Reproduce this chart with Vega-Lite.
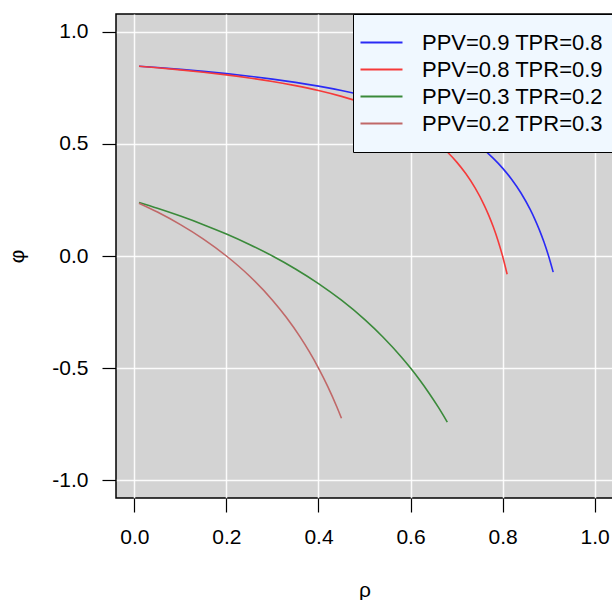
{
  "$schema": "https://vega.github.io/schema/vega-lite/v6.json",
  "width": 497,
  "height": 484,
  "autosize": {"type": "none"},
  "padding": {"left": 116, "top": 14, "right": 0, "bottom": 102},
  "background": "white",
  "config": {
    "font": "Liberation Sans",
    "view": {"fill": "#D3D3D3", "stroke": "black", "strokeWidth": 1.5},
    "axis": {
      "domain": false,
      "gridColor": "white",
      "gridWidth": 1.5,
      "gridOpacity": 0.9,
      "tickColor": "black",
      "tickSize": 14,
      "tickWidth": 1.2,
      "labelFontSize": 21,
      "labelColor": "black",
      "labelPadding": 14,
      "titleFontSize": 21,
      "titleFontWeight": "normal",
      "titleColor": "black",
      "labelFlush": false,
      "labelExpr": "replace(datum.label, '\u2212', '-')"
    },
    "legend": {
      "orient": "none",
      "legendX": 237,
      "legendY": 0,
      "fillColor": "#F0F8FF",
      "strokeColor": "black",
      "padding": 17,
      "symbolType": "M-2,0H2",
      "symbolSize": 441,
      "symbolStrokeWidth": 2,
      "symbolFillColor": "transparent",
      "labelFontSize": 22,
      "labelColor": "black",
      "labelOffset": 29,
      "rowPadding": 4,
      "labelLimit": 400
    }
  },
  "data": {
    "values": [
      {"series": "PPV=0.9 TPR=0.8", "rho": 0.01, "phi": 0.8471},
      {"series": "PPV=0.9 TPR=0.8", "rho": 0.05, "phi": 0.8411},
      {"series": "PPV=0.9 TPR=0.8", "rho": 0.1, "phi": 0.8329},
      {"series": "PPV=0.9 TPR=0.8", "rho": 0.15, "phi": 0.8239},
      {"series": "PPV=0.9 TPR=0.8", "rho": 0.2, "phi": 0.8137},
      {"series": "PPV=0.9 TPR=0.8", "rho": 0.25, "phi": 0.8024},
      {"series": "PPV=0.9 TPR=0.8", "rho": 0.3, "phi": 0.7895},
      {"series": "PPV=0.9 TPR=0.8", "rho": 0.35, "phi": 0.7749},
      {"series": "PPV=0.9 TPR=0.8", "rho": 0.4, "phi": 0.7581},
      {"series": "PPV=0.9 TPR=0.8", "rho": 0.45, "phi": 0.7386},
      {"series": "PPV=0.9 TPR=0.8", "rho": 0.5, "phi": 0.7155},
      {"series": "PPV=0.9 TPR=0.8", "rho": 0.55, "phi": 0.6881},
      {"series": "PPV=0.9 TPR=0.8", "rho": 0.6, "phi": 0.6547},
      {"series": "PPV=0.9 TPR=0.8", "rho": 0.65, "phi": 0.6131},
      {"series": "PPV=0.9 TPR=0.8", "rho": 0.7, "phi": 0.5601},
      {"series": "PPV=0.9 TPR=0.8", "rho": 0.75, "phi": 0.4899},
      {"series": "PPV=0.9 TPR=0.8", "rho": 0.78, "phi": 0.4356},
      {"series": "PPV=0.9 TPR=0.8", "rho": 0.8, "phi": 0.3922},
      {"series": "PPV=0.9 TPR=0.8", "rho": 0.82, "phi": 0.3414},
      {"series": "PPV=0.9 TPR=0.8", "rho": 0.84, "phi": 0.281},
      {"series": "PPV=0.9 TPR=0.8", "rho": 0.86, "phi": 0.2077},
      {"series": "PPV=0.9 TPR=0.8", "rho": 0.87, "phi": 0.1648},
      {"series": "PPV=0.9 TPR=0.8", "rho": 0.88, "phi": 0.1167},
      {"series": "PPV=0.9 TPR=0.8", "rho": 0.89, "phi": 0.0622},
      {"series": "PPV=0.9 TPR=0.8", "rho": 0.9, "phi": 0.0},
      {"series": "PPV=0.9 TPR=0.8", "rho": 0.91, "phi": -0.0719},
      {"series": "PPV=0.8 TPR=0.9", "rho": 0.01, "phi": 0.8469},
      {"series": "PPV=0.8 TPR=0.9", "rho": 0.05, "phi": 0.8401},
      {"series": "PPV=0.8 TPR=0.9", "rho": 0.1, "phi": 0.8308},
      {"series": "PPV=0.8 TPR=0.9", "rho": 0.15, "phi": 0.8202},
      {"series": "PPV=0.8 TPR=0.9", "rho": 0.2, "phi": 0.8082},
      {"series": "PPV=0.8 TPR=0.9", "rho": 0.25, "phi": 0.7945},
      {"series": "PPV=0.8 TPR=0.9", "rho": 0.3, "phi": 0.7788},
      {"series": "PPV=0.8 TPR=0.9", "rho": 0.35, "phi": 0.7603},
      {"series": "PPV=0.8 TPR=0.9", "rho": 0.4, "phi": 0.7386},
      {"series": "PPV=0.8 TPR=0.9", "rho": 0.45, "phi": 0.7124},
      {"series": "PPV=0.8 TPR=0.9", "rho": 0.5, "phi": 0.6803},
      {"series": "PPV=0.8 TPR=0.9", "rho": 0.55, "phi": 0.6402},
      {"series": "PPV=0.8 TPR=0.9", "rho": 0.6, "phi": 0.5884},
      {"series": "PPV=0.8 TPR=0.9", "rho": 0.63, "phi": 0.5493},
      {"series": "PPV=0.8 TPR=0.9", "rho": 0.66, "phi": 0.5019},
      {"series": "PPV=0.8 TPR=0.9", "rho": 0.68, "phi": 0.4641},
      {"series": "PPV=0.8 TPR=0.9", "rho": 0.7, "phi": 0.4201},
      {"series": "PPV=0.8 TPR=0.9", "rho": 0.72, "phi": 0.3679},
      {"series": "PPV=0.8 TPR=0.9", "rho": 0.74, "phi": 0.305},
      {"series": "PPV=0.8 TPR=0.9", "rho": 0.76, "phi": 0.2274},
      {"series": "PPV=0.8 TPR=0.9", "rho": 0.77, "phi": 0.1814},
      {"series": "PPV=0.8 TPR=0.9", "rho": 0.78, "phi": 0.1292},
      {"series": "PPV=0.8 TPR=0.9", "rho": 0.79, "phi": 0.0694},
      {"series": "PPV=0.8 TPR=0.9", "rho": 0.8, "phi": 0.0},
      {"series": "PPV=0.8 TPR=0.9", "rho": 0.81, "phi": -0.0817},
      {"series": "PPV=0.3 TPR=0.2", "rho": 0.01, "phi": 0.2388},
      {"series": "PPV=0.3 TPR=0.2", "rho": 0.05, "phi": 0.213},
      {"series": "PPV=0.3 TPR=0.2", "rho": 0.1, "phi": 0.1782},
      {"series": "PPV=0.3 TPR=0.2", "rho": 0.15, "phi": 0.14},
      {"series": "PPV=0.3 TPR=0.2", "rho": 0.2, "phi": 0.0981},
      {"series": "PPV=0.3 TPR=0.2", "rho": 0.25, "phi": 0.0516},
      {"series": "PPV=0.3 TPR=0.2", "rho": 0.3, "phi": 0.0},
      {"series": "PPV=0.3 TPR=0.2", "rho": 0.35, "phi": -0.0578},
      {"series": "PPV=0.3 TPR=0.2", "rho": 0.4, "phi": -0.1231},
      {"series": "PPV=0.3 TPR=0.2", "rho": 0.45, "phi": -0.1974},
      {"series": "PPV=0.3 TPR=0.2", "rho": 0.5, "phi": -0.2828},
      {"series": "PPV=0.3 TPR=0.2", "rho": 0.54, "phi": -0.3612},
      {"series": "PPV=0.3 TPR=0.2", "rho": 0.58, "phi": -0.4505},
      {"series": "PPV=0.3 TPR=0.2", "rho": 0.6, "phi": -0.5},
      {"series": "PPV=0.3 TPR=0.2", "rho": 0.62, "phi": -0.5534},
      {"series": "PPV=0.3 TPR=0.2", "rho": 0.64, "phi": -0.6111},
      {"series": "PPV=0.3 TPR=0.2", "rho": 0.66, "phi": -0.6736},
      {"series": "PPV=0.3 TPR=0.2", "rho": 0.67, "phi": -0.707},
      {"series": "PPV=0.3 TPR=0.2", "rho": 0.68, "phi": -0.7418},
      {"series": "PPV=0.2 TPR=0.3", "rho": 0.01, "phi": 0.2357},
      {"series": "PPV=0.2 TPR=0.3", "rho": 0.05, "phi": 0.196},
      {"series": "PPV=0.2 TPR=0.3", "rho": 0.1, "phi": 0.14},
      {"series": "PPV=0.2 TPR=0.3", "rho": 0.15, "phi": 0.0755},
      {"series": "PPV=0.2 TPR=0.3", "rho": 0.2, "phi": 0.0},
      {"series": "PPV=0.2 TPR=0.3", "rho": 0.25, "phi": -0.0894},
      {"series": "PPV=0.2 TPR=0.3", "rho": 0.3, "phi": -0.1974},
      {"series": "PPV=0.2 TPR=0.3", "rho": 0.33, "phi": -0.2737},
      {"series": "PPV=0.2 TPR=0.3", "rho": 0.36, "phi": -0.3612},
      {"series": "PPV=0.2 TPR=0.3", "rho": 0.38, "phi": -0.427},
      {"series": "PPV=0.2 TPR=0.3", "rho": 0.4, "phi": -0.5},
      {"series": "PPV=0.2 TPR=0.3", "rho": 0.42, "phi": -0.5816},
      {"series": "PPV=0.2 TPR=0.3", "rho": 0.44, "phi": -0.6736},
      {"series": "PPV=0.2 TPR=0.3", "rho": 0.45, "phi": -0.7242}
    ]
  },
  "mark": {"type": "line", "strokeWidth": 1.6, "interpolate": "monotone", "clip": true},
  "encoding": {
    "x": {
      "field": "rho",
      "type": "quantitative",
      "title": "ρ",
      "scale": {"domain": [-0.04, 1.04], "nice": false, "zero": false},
      "axis": {"values": [0, 0.2, 0.4, 0.6, 0.8, 1.0], "format": ".1f", "titleY": 92, "titleBaseline": "middle"}
    },
    "y": {
      "field": "phi",
      "type": "quantitative",
      "title": "φ",
      "scale": {"domain": [-1.08, 1.08], "nice": false, "zero": false},
      "axis": {"values": [-1, -0.5, 0, 0.5, 1], "format": ".1f", "titleX": -99, "titleBaseline": "middle"}
    },
    "color": {
      "field": "series",
      "type": "nominal",
      "sort": ["PPV=0.9 TPR=0.8", "PPV=0.8 TPR=0.9", "PPV=0.3 TPR=0.2", "PPV=0.2 TPR=0.3"],
      "scale": {
        "domain": ["PPV=0.9 TPR=0.8", "PPV=0.8 TPR=0.9", "PPV=0.3 TPR=0.2", "PPV=0.2 TPR=0.3"],
        "range": ["#2A2AF5", "#F53A3A", "#3A8A3A", "#C06868"]
      },
      "legend": {"title": null}
    }
  }
}
